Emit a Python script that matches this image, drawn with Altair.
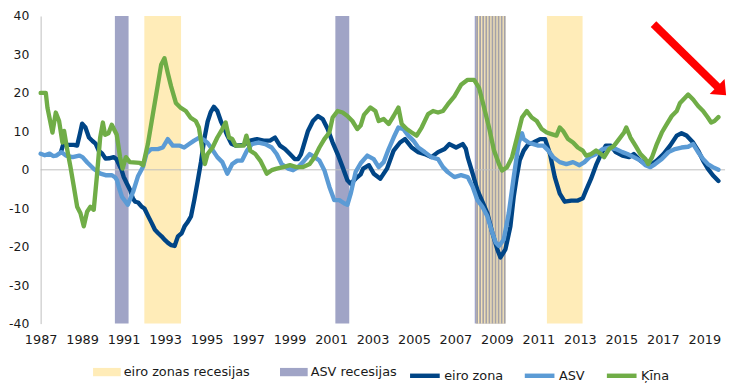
import math
import altair as alt
import pandas as pd
import numpy as np

# ---------------- data ----------------
eu_years = [1987.98, 1988.1, 1988.3, 1988.6, 1988.76, 1988.9, 1989.0, 1989.16, 1989.33, 1989.5, 1989.65, 1989.8,
            1989.97, 1990.13, 1990.3, 1990.52, 1990.65, 1990.76, 1990.9, 1991.0, 1991.15, 1991.32, 1991.45, 1991.56,
            1991.7, 1991.87, 1992.0, 1992.19, 1992.35, 1992.51, 1992.67, 1992.83, 1993.0, 1993.14, 1993.3, 1993.46,
            1993.62, 1993.8, 1993.94, 1994.1, 1994.25, 1994.41, 1994.57, 1994.73, 1994.89, 1995.05, 1995.2, 1995.35,
            1995.52, 1995.7, 1995.84, 1996.0, 1996.2, 1996.4, 1996.79, 1997.11, 1997.43, 1997.75, 1998.06, 1998.3,
            1998.54, 1998.78, 1999.02, 1999.25, 1999.41, 1999.55, 1999.65, 1999.89, 2000.13, 2000.37, 2000.6, 2000.84,
            2001.08, 2001.32, 2001.56, 2001.79, 2001.95, 2002.19, 2002.43, 2002.55, 2002.83, 2003.06, 2003.38, 2003.7,
            2004.02, 2004.33, 2004.57, 2004.89, 2005.21, 2005.52, 2005.84, 2006.16, 2006.48, 2006.71, 2007.03, 2007.35,
            2007.5, 2007.59, 2007.83, 2008.06, 2008.3, 2008.54, 2008.78, 2009.02, 2009.17, 2009.41, 2009.65, 2009.81,
            2009.95, 2010.1, 2010.29, 2010.52, 2010.76, 2011.08, 2011.32, 2011.56, 2011.79, 2012.03, 2012.27, 2012.59,
            2012.9, 2013.14, 2013.3, 2013.54, 2013.78, 2014.02, 2014.25, 2014.49, 2014.73, 2015.05, 2015.37, 2015.6,
            2015.92, 2016.16, 2016.48, 2016.71, 2017.03, 2017.35, 2017.67, 2017.9, 2018.14, 2018.46, 2018.7, 2018.94,
            2019.17, 2019.41, 2019.68]
eu_vals = [4.6, 6.8, 6.5, 6.5, 6.3, 9.5, 12.0, 11.0, 8.4, 7.5, 6.8, 5.0,
           4.2, 2.9, 3.0, 3.3, 2.8, 1.6, 0.0, -1.8, -3.5, -5.3, -7.5, -8.3,
           -8.5, -9.6, -10.0, -12.1, -13.8, -15.6, -16.5, -17.3, -18.3, -19.0, -19.6, -19.8,
           -17.3, -16.5, -14.7, -13.5, -12.1, -7.8, -3.0, 2.0, 8.0, 12.5, 15.0, 16.4,
           15.3, 12.5, 11.0, 8.9, 6.8, 6.3, 6.5, 7.6, 8.0, 7.6, 7.6, 8.4,
           6.3, 5.4, 4.1, 2.8, 2.8, 4.0, 5.8, 10.1, 12.7, 14.0, 13.2, 10.6,
           7.1, 4.1, 0.7, -2.7, -3.6, -2.3, -1.2, 0.3, 1.2, -1.0, -2.3, 0.3,
           5.0, 7.1, 8.0, 5.8, 4.6, 4.1, 3.3, 4.6, 5.4, 6.7, 5.8, 6.7,
           5.5, 3.3, -1.0, -5.3, -8.3, -11.3, -16.4, -20.7, -22.8, -20.7, -14.7, -7.0,
           -2.0, 2.5, 5.0, 6.7, 7.1, 8.0, 8.0, 4.1, -1.9, -6.2, -8.3, -8.0,
           -8.0, -7.4, -5.3, -2.3, 1.2, 4.1, 6.3, 6.3, 4.6, 3.7, 3.3, 4.1,
           2.4, 1.5, 1.5, 2.4, 4.1, 6.3, 8.9, 9.5, 8.9, 7.1, 5.0, 2.4,
           0.3, -1.4, -2.9]

us_years = [1987.0, 1987.2, 1987.43, 1987.6, 1987.75, 1988.0, 1988.22, 1988.54, 1988.86, 1989.02, 1989.25, 1989.57,
            1989.89, 1990.13, 1990.44, 1990.6, 1990.68, 1990.8, 1990.92, 1991.2, 1991.46, 1991.7, 1991.94, 1992.1,
            1992.33, 1992.65, 1992.89, 1993.13, 1993.37, 1993.68, 1993.92, 1994.16, 1994.4, 1994.63, 1994.87, 1995.05,
            1995.21, 1995.52, 1995.76, 1996.0, 1996.24, 1996.48, 1996.71, 1996.95, 1997.19, 1997.51, 1997.83, 1998.14,
            1998.38, 1998.62, 1998.94, 1999.17, 1999.41, 1999.65, 1999.97, 2000.21, 2000.44, 2000.68, 2000.92, 2001.16,
            2001.4, 2001.63, 2001.79, 2001.95, 2002.19, 2002.43, 2002.75, 2003.06, 2003.3, 2003.54, 2003.78, 2004.02,
            2004.25, 2004.49, 2004.73, 2004.97, 2005.21, 2005.52, 2005.84, 2006.16, 2006.4, 2006.63, 2006.95, 2007.27,
            2007.59, 2007.83, 2008.06, 2008.3, 2008.54, 2008.78, 2008.94, 2009.1, 2009.33, 2009.57, 2009.81, 2010.05,
            2010.21, 2010.29, 2010.52, 2010.76, 2011.0, 2011.24, 2011.48, 2011.71, 2012.03, 2012.35, 2012.67, 2012.98,
            2013.22, 2013.46, 2013.78, 2014.1, 2014.41, 2014.73, 2015.05, 2015.29, 2015.6, 2015.92, 2016.16, 2016.4,
            2016.63, 2016.95, 2017.27, 2017.59, 2017.9, 2018.22, 2018.46, 2018.7, 2018.94, 2019.17, 2019.41, 2019.68]
us_vals = [4.2, 3.8, 4.2, 3.6, 3.7, 4.6, 3.7, 3.3, 3.7, 3.3, 1.9, 0.2,
           -1.0, -1.4, -1.4, -2.0, -2.7, -5.0, -7.0, -9.1, -5.7, -1.6, 0.8, 4.2,
           5.4, 5.4, 5.8, 8.0, 6.3, 6.3, 5.8, 6.7, 7.6, 8.3, 7.8, 7.0,
           5.8, 3.3, 2.0, -1.0, 1.5, 2.4, 2.4, 5.0, 6.7, 7.1, 6.7, 5.8,
           4.1, 1.5, 0.3, -0.1, 0.7, 2.0, 4.1, 3.3, 2.4, -0.1, -4.4, -7.9,
           -7.9, -8.7, -9.1, -6.2, -0.5, 1.7, 3.7, 2.8, 0.7, 2.0, 5.4, 8.4,
           11.0, 10.6, 8.9, 7.6, 5.8, 4.6, 3.3, 2.8, 0.7, -0.6, -1.9, -1.4,
           -1.9, -4.4, -7.9, -9.6, -12.1, -16.4, -18.9, -19.8, -18.1, -11.3, -1.9, 7.0,
           9.5, 8.0, 7.1, 6.7, 6.3, 6.3, 5.0, 3.3, 2.0, 1.5, 2.0, 1.2,
           2.0, 3.3, 4.1, 5.4, 5.8, 5.4, 4.6, 4.1, 3.3, 2.4, 1.2, 0.7,
           1.5, 2.8, 4.6, 5.4, 5.8, 6.0, 6.7, 4.6, 2.8, 1.5, 0.7, 0.0]

cn_years = [1987.0, 1987.25, 1987.33, 1987.57, 1987.73, 1987.89, 1988.05, 1988.13, 1988.29, 1988.44, 1988.6, 1988.76,
            1988.92, 1989.08, 1989.24, 1989.4, 1989.56, 1989.71, 1989.87, 1990.0, 1990.11, 1990.27, 1990.43, 1990.67,
            1990.83, 1990.95, 1991.11, 1991.3, 1991.78, 1991.94, 1992.17, 1992.41, 1992.65, 1992.81, 1992.97, 1993.13,
            1993.29, 1993.52, 1993.76, 1994.0, 1994.24, 1994.48, 1994.63, 1994.79, 1994.92, 1995.05, 1995.29, 1995.52,
            1995.76, 1995.92, 1996.08, 1996.24, 1996.4, 1996.79, 1996.92, 1997.11, 1997.35, 1997.59, 1997.75, 1997.9,
            1998.14, 1998.38, 1998.7, 1999.02, 1999.33, 1999.65, 1999.97, 2000.21, 2000.44, 2000.68, 2000.92, 2001.08,
            2001.32, 2001.56, 2001.79, 2002.03, 2002.27, 2002.43, 2002.59, 2002.9, 2003.14, 2003.3, 2003.54, 2003.78,
            2004.02, 2004.25, 2004.41, 2004.65, 2004.89, 2005.13, 2005.37, 2005.68, 2005.92, 2006.16, 2006.4, 2006.63,
            2006.95, 2007.27, 2007.59, 2007.9, 2008.14, 2008.38, 2008.62, 2008.86, 2009.1, 2009.25, 2009.49, 2009.73,
            2009.97, 2010.21, 2010.44, 2010.68, 2010.92, 2011.16, 2011.4, 2011.63, 2011.87, 2012.03, 2012.19, 2012.43,
            2012.67, 2012.9, 2013.14, 2013.3, 2013.54, 2013.78, 2014.02, 2014.17, 2014.41, 2014.65, 2014.89, 2015.13,
            2015.24, 2015.44, 2015.68, 2015.92, 2016.16, 2016.29, 2016.48, 2016.71, 2016.95, 2017.19, 2017.43, 2017.67,
            2017.83, 2018.06, 2018.22, 2018.46, 2018.7, 2018.94, 2019.17, 2019.33, 2019.49, 2019.68]
cn_vals = [20.0, 20.0, 16.1, 9.7, 14.9, 12.7, 7.1, 10.1, 5.0, 0.7, -4.4, -9.6,
           -11.3, -14.7, -10.9, -9.6, -10.4, -1.8, 8.4, 12.3, 9.1, 9.5, 11.7, 9.1,
           3.3, 0.3, 3.3, 2.0, 1.8, 1.2, 6.7, 14.4, 22.1, 27.3, 29.0, 25.2,
           21.7, 17.4, 16.1, 15.3, 13.5, 12.7, 11.0, 5.5, 1.5, 4.1, 5.8, 8.4,
           10.6, 12.3, 8.4, 8.0, 6.3, 6.3, 8.9, 5.0, 4.1, 2.4, 0.7, -1.0,
           -0.1, 0.3, 0.7, 1.2, 0.7, 0.7, 1.5, 3.3, 5.8, 8.0, 9.7, 13.6,
           15.3, 14.9, 14.0, 12.7, 10.6, 11.5, 14.3, 16.2, 15.3, 12.7, 13.2, 11.9,
           14.0, 16.2, 11.9, 10.6, 9.7, 8.9, 11.0, 14.5, 15.3, 14.9, 15.3, 17.0,
           19.1, 22.1, 23.4, 23.4, 21.3, 16.2, 11.0, 5.0, 1.5, -0.2, 0.7, 3.3,
           8.4, 13.6, 15.3, 13.6, 12.7, 10.6, 9.7, 9.3, 8.9, 11.0, 10.1, 8.0,
           7.1, 5.8, 5.0, 3.7, 4.1, 5.0, 4.1, 3.3, 5.4, 6.3, 8.0, 9.7,
           11.0, 8.4, 6.3, 4.1, 2.8, 1.5, 3.3, 6.7, 9.7, 11.9, 14.0, 15.3,
           17.4, 18.7, 19.6, 18.3, 16.6, 15.3, 13.6, 12.3, 12.7, 13.7]

# recession periods (decimal years)
euro_rec_start = [1992.0, 2008.0, 2011.41]
euro_rec_end = [1993.77, 2009.41, 2013.13]
us_rec_start = [1990.58, 2001.21, 2007.93]
us_rec_end = [1991.24, 2001.88, 2009.41]

series_names = ["eiro zona", "ASV", "Ķīna"]
band_names = ["eiro zonas recesijas", "ASV recesijas"]
x_tick_values = list(range(1987, 2020, 2))
y_tick_values = list(range(-40, 41, 10))

# red arrow annotation (data units)
arrow_start = (2016.55, 37.9)
arrow_tip = (2020.05, 19.4)

# ---------------- styling ----------------
W, H = 692, 311
X0, X1 = 1987, 2020
Y0, Y1 = -40, 40
FONT = "DejaVu Sans"
TXT = "#1a1a1a"
C_EU, C_US, C_CN = "#004586", "#5B9BD5", "#70AD47"
C_YEL, C_PUR, C_STRIPE = "#FFECB8", "#A0A4C6", "#A3A1A9"
AXIS_GRAY = "#BFBFBF"
sx = W / (X1 - X0)
sy = H / (Y1 - Y0)

# ---------------- tables ----------------
lines_df = pd.concat([
    pd.DataFrame({"year": eu_years, "value": eu_vals, "series": "eiro zona"}),
    pd.DataFrame({"year": us_years, "value": us_vals, "series": "ASV"}),
    pd.DataFrame({"year": cn_years, "value": cn_vals, "series": "Ķīna"}),
], ignore_index=True)

bands_df = pd.DataFrame({
    "start": us_rec_start + euro_rec_start,
    "end": us_rec_end + euro_rec_end,
    "type": ["ASV recesijas"] * len(us_rec_start) + ["eiro zonas recesijas"] * len(euro_rec_start),
})

# overlapping recessions drawn as vertical stripes
period = 3.1 / sx
stripe_w = 1.9 / sx
s_lo, s_hi = [], []
for es, ee in zip(euro_rec_start, euro_rec_end):
    for us, ue in zip(us_rec_start, us_rec_end):
        lo, hi = max(es, us), min(ee, ue)
        if hi > lo:
            for s in np.arange(lo, hi - stripe_w * 0.5, period):
                s_lo.append(float(s))
                s_hi.append(float(min(s + stripe_w, hi)))
stripes_df = pd.DataFrame({"start": s_lo, "end": s_hi})

# arrow geometry
dx = (arrow_tip[0] - arrow_start[0]) * sx
dy = -(arrow_tip[1] - arrow_start[1]) * sy
L = math.hypot(dx, dy)
angle = math.degrees(math.atan2(dy, dx))
back = 9.0
shaft_end = (arrow_tip[0] - dx / L * back / sx, arrow_tip[1] + dy / L * back / sy)
shaft_df = pd.DataFrame({"x": [arrow_start[0]], "y": [arrow_start[1]],
                         "x2": [shaft_end[0]], "y2": [shaft_end[1]]})
head_df = pd.DataFrame({"x": [arrow_tip[0]], "y": [arrow_tip[1]]})

# ---------------- chart ----------------
xs = alt.Scale(domain=[X0, X1], nice=False, zero=False)
ys = alt.Scale(domain=[Y0, Y1], nice=False, zero=False)

x_axis = alt.Axis(values=x_tick_values, format="d", domain=False, ticks=False, tickSize=0, grid=False,
                  labelPadding=10, labelFlush=False, labelOverlap=False, labelFontSize=13, title=None)
y_axis = alt.Axis(values=y_tick_values, domain=True, domainColor=AXIS_GRAY, domainWidth=1, ticks=False,
                  tickSize=0, grid=False, labelPadding=12, labelOverlap=False, labelFlush=False,
                  labelFontSize=12.5, labelExpr="'' + datum.value", title=None)

def X(field):
    return alt.X(field, scale=xs, axis=x_axis)

def Y(field):
    return alt.Y(field, scale=ys, axis=y_axis)

bands = alt.Chart(bands_df).mark_rect(strokeWidth=0).encode(
    x=X("start:Q"),
    x2="end:Q",
    fill=alt.Fill("type:N",
                  scale=alt.Scale(domain=band_names, range=[C_YEL, C_PUR]),
                  legend=alt.Legend(title=None, orient="none", legendX=53, legendY=346,
                                    direction="horizontal", symbolType="M-1,-0.3H1V0.3H-1Z",
                                    symbolSize=784, symbolStrokeWidth=0, labelOffset=3,
                                    columnPadding=30)),
)

stripes = alt.Chart(stripes_df).mark_rect(color=C_STRIPE, strokeWidth=0).encode(
    x=X("start:Q"),
    x2="end:Q",
)

zero = alt.Chart(pd.DataFrame({"v": [0]})).mark_rule(color=AXIS_GRAY, strokeWidth=1).encode(
    y=Y("v:Q")
)

stroke_enc = alt.Stroke("series:N",
                        scale=alt.Scale(domain=series_names, range=[C_EU, C_US, C_CN]),
                        legend=alt.Legend(title=None, orient="none", legendX=371, legendY=346,
                                          direction="horizontal", symbolType="M-1,0H1",
                                          symbolSize=900, symbolStrokeWidth=4.5, labelOffset=2,
                                          columnPadding=12))

line_layers = []
for name in series_names:
    line_layers.append(
        alt.Chart(lines_df[lines_df["series"] == name]).mark_line(
            strokeWidth=4.4, strokeJoin="round", strokeCap="round").encode(
            x=X("year:Q"),
            y=Y("value:Q"),
            stroke=stroke_enc,
            order="year:Q",
        )
    )

shaft = alt.Chart(shaft_df).mark_rule(color="#FF0000", strokeWidth=8, strokeCap="butt").encode(
    x=X("x:Q"), y=Y("y:Q"), x2="x2:Q", y2="y2:Q"
)
head = alt.Chart(head_df).mark_point(shape="M0,0L-1.3,-1.1L-1.3,1.1Z", filled=True, color="#FF0000",
                                     opacity=1, size=380, angle=round(angle, 2), strokeWidth=0).encode(
    x=X("x:Q"), y=Y("y:Q")
)

chart = alt.layer(bands, stripes, zero, *line_layers, shaft, head).resolve_scale(
    stroke="shared", fill="independent"
).properties(
    width=W, height=H,
    autosize=alt.AutoSizeParams(type="none"),
    padding={"left": 33, "top": 6, "right": 6, "bottom": 64},
    background="white",
).configure_view(stroke=None).configure_axis(
    labelFont=FONT, labelColor=TXT
).configure_legend(
    labelFont=FONT, labelFontSize=13, labelColor=TXT, labelLimit=300
)

chart.save("out.html", embed_options={"renderer": "svg", "actions": False})
